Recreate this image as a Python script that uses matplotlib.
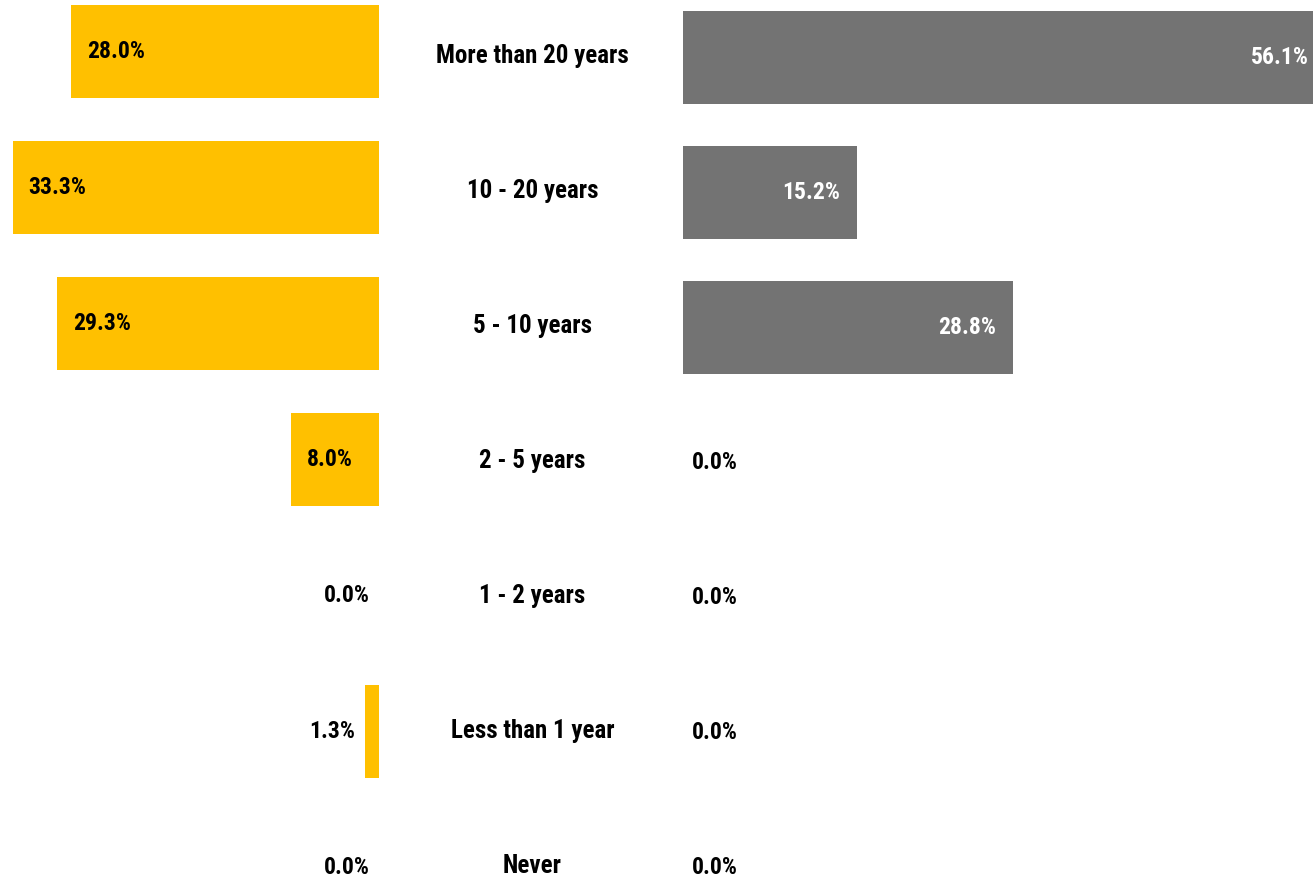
import matplotlib
matplotlib.use("Agg")
import matplotlib.pyplot as plt
from matplotlib import font_manager

categories = ["More than 20 years", "10 - 20 years", "5 - 10 years", "2 - 5 years",
              "1 - 2 years", "Less than 1 year", "Never"]
left_values = [28.0, 33.3, 29.3, 8.0, 0.0, 1.3, 0.0]
right_values = [56.1, 15.2, 28.8, 0.0, 0.0, 0.0, 0.0]


def _w(x):
    if isinstance(x, (int, float)):
        return x
    return {"bold": 700, "semibold": 600, "demibold": 600, "heavy": 800,
            "black": 900, "extra bold": 800}.get(str(x).lower(), 400)


fonts = font_manager.fontManager.ttflist
cands = {}
for f in fonts:
    if ("Narrow" in f.name or "Condensed" in f.name) and f.style == "normal":
        cands.setdefault(f.name, []).append(_w(f.weight))
bold_cands = sorted(n for n, ws in cands.items() if max(ws) >= 600)
pref = ["Liberation Sans Narrow", "Arial Narrow", "Roboto Condensed", "Open Sans Condensed"]
fam = None
for p in pref:
    if p in bold_cands:
        fam = p
        break
if fam is None and bold_cands:
    fam = bold_cands[0]
cond = fam is not None
if fam is None:
    fam = "Liberation Sans"
plt.rcParams["font.family"] = [fam, "DejaVu Sans"]

W, H = 1313, 884
fig = plt.figure(figsize=(W / 100, H / 100), dpi=100)

YELLOW = "#FFC000"
GREY = "#737373"
FS = 17 if cond else 15.5
FSC = 18 if cond else 16.5

# left axes: x 0..379 px
axL = fig.add_axes([0, 0, 379 / W, 1])
n = len(categories)
ys = list(range(n))
axL.barh(ys, left_values, height=0.684, color=YELLOW)
axL.set_xlim(379 / 11.0, 0)
axL.set_ylim((H - 51.5) / 136, -51.5 / 136)
axL.axis("off")
for y, v in zip(ys, left_values):
    if v >= 5:
        axL.annotate(f"{v:.1f}%", (v, y), xytext=(11.5, 0), textcoords="offset points",
                     ha="left", va="center", fontsize=FS, fontweight="bold", color="black")
    else:
        axL.annotate(f"{v:.1f}%", (v, y), xytext=(-7, 0), textcoords="offset points",
                     ha="right", va="center", fontsize=FS, fontweight="bold", color="black")

# right axes: x 683..1313 px
axR = fig.add_axes([683 / W, 0, (W - 683) / W, 1])
axR.barh(ys, right_values, height=0.69, color=GREY)
axR.set_xlim(0, (W - 683) / 11.45)
axR.set_ylim((H - 57.5) / 135, -57.5 / 135)
axR.axis("off")
for y, v in zip(ys, right_values):
    if v > 0:
        axR.annotate(f"{v:.1f}%", (v, y), xytext=(-12, 0), textcoords="offset points",
                     ha="right", va="center", fontsize=FS, fontweight="bold", color="white",
                     annotation_clip=False)
    else:
        axR.annotate(f"{v:.1f}%", (v, y), xytext=(6.5, 0), textcoords="offset points",
                     ha="left", va="center", fontsize=FS, fontweight="bold", color="black")

# category labels in the middle
axM = fig.add_axes([379 / W, 0, (683 - 379) / W, 1])
axM.set_xlim(0, 1)
axM.set_ylim((H - 56) / 135, -56 / 135)
axM.axis("off")
for y, c in zip(ys, categories):
    axM.text(0.505, y, c, ha="center", va="center", fontsize=FSC, fontweight="bold", color="black")

fig.savefig("out.png", dpi=100)
